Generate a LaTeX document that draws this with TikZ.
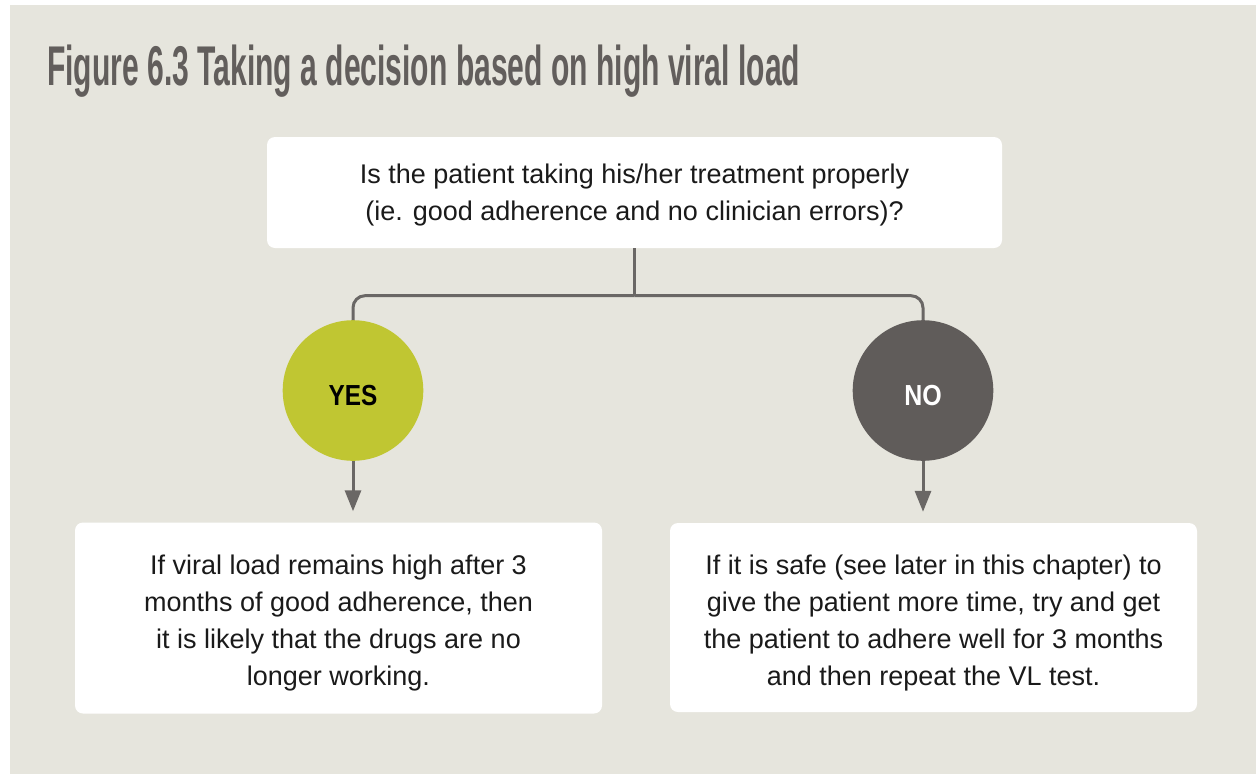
\documentclass[tikz,border=0pt]{standalone}
\usepackage{fontspec}
\usepackage{graphicx}
\setmainfont{Liberation Sans}
\usetikzlibrary{arrows.meta}
\definecolor{panel}{HTML}{E6E5DD}
\definecolor{titlegray}{HTML}{625E5C}
\definecolor{linegray}{HTML}{6A6765}
\definecolor{yesgreen}{HTML}{C0C632}
\definecolor{nogray}{HTML}{605C5A}
\definecolor{txt}{HTML}{1A1A1A}
\newcommand{\toppad}[1]{\rule{0pt}{#1}}
\tikzset{
  box/.style={draw=none, fill=white, rounded corners=8pt, align=center, inner sep=0pt,
    text=txt, font=\fontsize{27}{37}\selectfont},
  circnode/.style={circle, minimum size=140.6pt, inner sep=0pt, text height=29pt, text depth=0pt,
    font=\bfseries\fontsize{29}{32}\selectfont},
  yesnode/.style={circnode, fill=yesgreen, text=black},
  nonode/.style={circnode, fill=nogray, text=white},
  conn/.style={draw=linegray, line width=3pt},
  arr/.style={conn, -{Triangle[length=21pt,width=16pt]}, shorten >=11pt}
}
\begin{document}
\begin{tikzpicture}[x=1pt,y=-1pt]
\useasboundingbox (0,0) rectangle (1256,774);
\fill[white] (0,0) rectangle (1256,774);
\fill[panel] (10,5) rectangle (1256,774);

\node[anchor=base west, inner sep=0pt, text=titlegray, font=\bfseries\fontsize{56}{60}\selectfont] (title) at (47,85)
  {\resizebox{753pt}{\height}{Figure 6.3 Taking a decision based on high viral load}};

\node[box, minimum width=735pt, minimum height=111pt] (top) at (634.5,192.5)
  {\toppad{25pt}Is the patient taking his/her treatment properly\\(ie. good adherence and no clinician errors)?};

\node[yesnode] (yes) at (353,390.5) {\scalebox{0.84}[1]{YES}};
\node[nonode] (no) at (923,390.5) {\scalebox{0.86}[1]{NO}};

\node[box, minimum width=527pt, minimum height=191pt] (lbox) at (338.5,618)
  {\toppad{30pt}If viral load remains high after 3\\months of good adherence, then\\it is likely that the drugs are no\\longer working.};
\node[box, minimum width=527pt, minimum height=189pt] (rbox) at (933.5,617.5)
  {\toppad{30pt}If it is safe (see later in this chapter) to\\give the patient more time, try and get\\the patient to adhere well for 3 months\\and then repeat the VL test.};

\draw[conn] (top.south) -- ++(0,47.5) coordinate (j);
\draw[conn, rounded corners=12pt] (j) -| (yes.north);
\draw[conn, rounded corners=12pt] (j) -| (no.north);

\draw[arr] (yes.south) -- (lbox.north -| yes.south);
\draw[arr] (no.south) -- (rbox.north -| no.south);
\end{tikzpicture}
\end{document}
